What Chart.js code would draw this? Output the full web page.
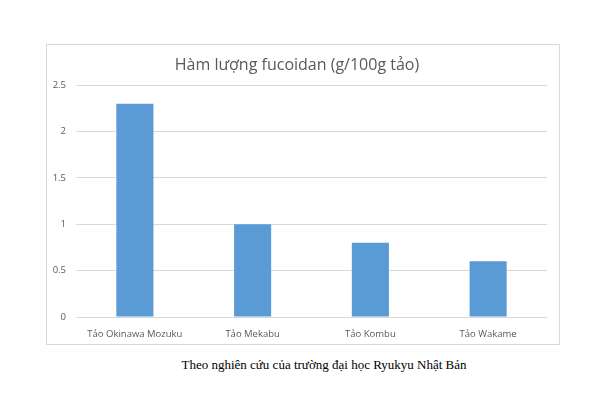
<!DOCTYPE html>
<html>
<head>
<meta charset="utf-8">
<script src="https://cdn.jsdelivr.net/npm/chart.js@4"></script>
<style>
  html, body { margin: 0; padding: 0; background: #fff; }
  body { width: 606px; height: 403px; position: relative; overflow: hidden; }
  #box {
    position: absolute; left: 46px; top: 44px; width: 514px; height: 301px;
    box-sizing: border-box; border: 1px solid #d9d9d9;
  }
  #caption {
    position: absolute; left: 0; width: 648px; top: 357px; text-align: center;
    font-family: "Liberation Serif", "DejaVu Serif", serif; font-size: 13px; color: #000;
  }
</style>
</head>
<body>
<div id="box"><canvas id="myChart"></canvas></div>
<div id="caption">Theo nghiên cứu của trường đại học Ryukyu Nhật Bản</div>
<script>
const categories = ['Tảo Okinawa Mozuku', 'Tảo Mekabu', 'Tảo Kombu', 'Tảo Wakame'];
const fucoidan = [2.3, 1.0, 0.8, 0.6];
const yTicks = [0, 0.5, 1, 1.5, 2, 2.5];

const data = {
    labels: categories,
    datasets: [{
        label: 'Hàm lượng fucoidan',
        data: fucoidan,
        backgroundColor: '#5b9bd5',
        borderWidth: 0,
        categoryPercentage: 1,
        barPercentage: 0.315
    }]
};

const options = {
    responsive: true,
    maintainAspectRatio: false,
    animation: false,
    layout: {
        padding: {left: 0, right: 12, top: 0, bottom: 0}
    },
    plugins: {
        legend: {display: false},
        tooltip: {enabled: false},
        title: {
            display: true,
            text: 'Hàm lượng fucoidan (g/100g tảo)',
            color: '#595959',
            font: {family: 'Open Sans', size: 16, weight: 'normal'},
            padding: {top: 11, bottom: 10}
        }
    },
    scales: {
        x: {
            grid: {display: false},
            border: {display: false},
            ticks: {
                color: '#595959',
                font: {family: 'Open Sans', size: 9.5},
                padding: 4,
                maxRotation: 0
            },
            afterFit: (scale) => { scale.height = 27; }
        },
        y: {
            min: 0,
            max: 2.5,
            afterBuildTicks: (scale) => {
                scale.ticks = yTicks.map(v => ({value: v}));
            },
            grid: {color: '#d9d9d9', drawTicks: false},
            border: {display: false},
            ticks: {
                color: '#595959',
                font: {family: 'Open Sans', size: 9.5},
                padding: 10,
                callback: (value) => String(value)
            },
            afterFit: (scale) => { scale.width = 29; }
        }
    }
};

const myChart = new Chart(document.getElementById('myChart'), {
    type: 'bar',
    data,
    options
});
</script>
</body>
</html>
